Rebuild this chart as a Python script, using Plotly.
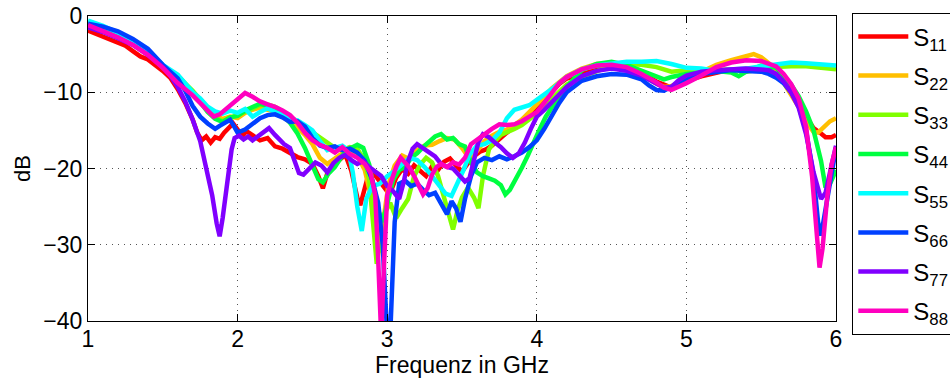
import plotly.graph_objects as go

# Measured reflection coefficients S11 ... S88 (frequency in GHz, magnitude in dB)
f11 = [1.00, 1.05, 1.10, 1.15, 1.20, 1.25, 1.30, 1.35, 1.40, 1.45,
       1.50, 1.55, 1.60, 1.65, 1.70, 1.73, 1.76, 1.79, 1.82, 1.85,
       1.88, 1.91, 1.94, 1.97, 2.00, 2.03, 2.06, 2.10, 2.15, 2.20,
       2.25, 2.30, 2.35, 2.40, 2.45, 2.50, 2.54, 2.57, 2.60, 2.64,
       2.68, 2.72, 2.76, 2.80, 2.82, 2.85, 2.88, 2.92, 2.96, 3.00,
       3.03, 3.06, 3.10, 3.14, 3.18, 3.22, 3.26, 3.30, 3.34, 3.38,
       3.42, 3.46, 3.50, 3.54, 3.58, 3.62, 3.66, 3.70, 3.75, 3.80,
       3.85, 3.90, 3.95, 4.00, 4.05, 4.10, 4.15, 4.20, 4.30, 4.40,
       4.50, 4.60, 4.70, 4.80, 4.90, 5.00, 5.10, 5.20, 5.30, 5.40,
       5.50, 5.60, 5.65, 5.70, 5.75, 5.80, 5.85, 5.90, 5.93, 5.97,
       6.00]
s11 = [-1.9, -2.3, -2.8, -3.2, -3.5, -3.9, -4.6, -5.3, -5.7, -6.4,
       -7.2, -8.1, -9.6, -11.4, -13.6, -15.3, -16.3, -15.8, -16.6, -15.9,
       -16.1, -15.3, -14.6, -14.1, -14.9, -15.8, -15.1, -15.7, -16.3, -16.0,
       -17.1, -17.4, -17.9, -18.5, -18.8, -19.4, -21.0, -22.6, -20.6, -19.6,
       -18.9, -18.2, -20.3, -23.8, -24.8, -22.6, -20.4, -20.9, -21.9, -23.0,
       -22.7, -21.2, -20.1, -20.7, -19.6, -20.4, -21.0, -19.7, -20.2, -19.1,
       -18.7, -19.6, -20.4, -19.3, -18.4, -17.8, -17.5, -17.0, -16.1, -15.3,
       -14.5, -13.9, -13.1, -12.2, -11.0, -9.9, -8.9, -8.2, -7.6, -7.0,
       -6.6, -6.9, -7.5, -8.6, -9.4, -8.5, -7.9, -7.4, -7.0, -7.0,
       -7.0, -7.5, -8.4, -10.0, -11.6, -13.3, -14.7, -15.4, -15.9, -15.9,
       -15.6]

f22 = [1.00, 1.10, 1.20, 1.30, 1.40, 1.50, 1.60, 1.70, 1.80,
       1.85, 1.90, 1.95, 2.00, 2.05, 2.10, 2.15, 2.20, 2.25, 2.30, 2.35, 2.40, 2.45, 2.50,
       2.55, 2.60, 2.65, 2.70, 2.75, 2.80, 2.85,
       2.89, 2.92, 2.95, 2.98, 3.01,
       3.05, 3.10, 3.15, 3.20, 3.25, 3.30, 3.35, 3.40, 3.45, 3.50,
       3.55, 3.60, 3.65, 3.70, 3.75, 3.80, 3.85, 3.90, 3.95, 4.00,
       4.10, 4.20, 4.30, 4.40, 4.50, 4.60, 4.70, 4.80,
       4.85, 4.90, 5.00, 5.10, 5.20, 5.30, 5.40, 5.45, 5.50, 5.55,
       5.60, 5.65, 5.70, 5.75, 5.80, 5.85, 5.88, 5.92, 5.96, 6.00]
s22 = [-1.3, -2.0, -2.7, -3.7, -5.0, -6.7, -8.5, -10.4, -12.3,
       -13.1, -13.5, -13.2, -13.4, -12.7, -12.3, -12.0, -12.3, -12.5, -13.2, -13.9, -14.6, -15.6, -16.8,
       -18.6, -19.4, -18.7, -18.0, -17.6, -18.3, -20.2,
       -23.5, -28.0, -31.0, -26.0, -22.0,
       -19.6, -18.3, -18.8, -17.6, -17.0, -16.9, -16.4, -16.0, -16.2, -17.3,
       -18.7, -17.7, -16.4, -15.7, -15.2, -14.9, -14.3, -13.6, -12.6, -11.6,
       -9.5, -7.9, -6.9, -6.3, -6.2, -6.7, -7.7, -8.9,
       -9.3, -9.2, -8.3, -7.3, -6.4, -5.8, -5.3, -5.0, -5.4, -6.2,
       -7.2, -8.8, -10.3, -11.9, -13.8, -15.2, -15.3, -14.5, -13.8, -13.4]

f33 = [1.00, 1.10, 1.20, 1.30, 1.40, 1.50, 1.60, 1.70, 1.80,
       1.85, 1.90, 1.95, 2.00, 2.05, 2.10, 2.15, 2.20, 2.25, 2.30, 2.35,
       2.40, 2.45, 2.50, 2.55, 2.60, 2.65, 2.70, 2.75, 2.80, 2.85,
       2.88, 2.91, 2.93, 2.95, 2.98, 3.02, 3.06, 3.10, 3.14, 3.18,
       3.22, 3.26, 3.30, 3.34, 3.38, 3.41, 3.44, 3.47, 3.50, 3.54,
       3.58, 3.61, 3.64, 3.68, 3.72, 3.76, 3.80, 3.85, 3.90, 3.95,
       4.00, 4.05, 4.10,
       4.20, 4.30, 4.40, 4.50, 4.60, 4.70, 4.80, 4.90, 5.00, 5.10,
       5.20, 5.30, 5.40, 5.50, 5.60, 5.70, 5.80, 5.90, 6.00]
s33 = [-1.0, -1.7, -2.5, -3.5, -4.9, -6.5, -7.9, -9.8, -12.2,
       -13.3, -13.8, -13.4, -13.0, -12.5, -12.1, -11.7, -11.6, -11.9, -12.5, -13.2,
       -13.8, -14.6, -15.2, -16.0, -16.6, -17.3, -17.6, -17.2, -17.4, -19.0,
       -21.5, -28.5, -32.5, -30.0, -26.0, -24.5, -26.5, -25.2, -24.0, -21.0,
       -19.5, -18.6, -19.2, -21.0, -24.0, -26.0, -28.0, -25.5, -23.8, -22.5,
       -23.8, -25.2, -21.0, -17.5, -16.4, -15.6, -15.3, -14.8, -14.3, -13.6,
       -12.8, -11.8, -10.8,
       -9.0, -8.0, -7.2, -6.5, -6.3, -6.4, -6.7, -7.3, -7.1, -7.3,
       -7.1, -7.0, -7.3, -7.0, -6.7, -6.6, -6.6, -6.8, -7.0]

f44 = [1.00, 1.10, 1.20, 1.30, 1.40, 1.50, 1.60, 1.70, 1.80,
       1.85, 1.90, 1.95, 2.00, 2.05, 2.10, 2.15, 2.20, 2.25, 2.30, 2.35, 2.40, 2.45, 2.50,
       2.54, 2.57, 2.61, 2.65, 2.70, 2.75, 2.80, 2.84, 2.88, 2.91,
       2.94, 2.97, 3.00, 3.04, 3.08, 3.12, 3.16, 3.20, 3.24, 3.28,
       3.32, 3.36, 3.40, 3.44, 3.48, 3.52, 3.56, 3.60, 3.64, 3.68,
       3.72, 3.76, 3.79, 3.82, 3.86, 3.90, 3.94, 3.98, 4.02, 4.06,
       4.10, 4.15, 4.20, 4.25, 4.30, 4.40, 4.50, 4.60, 4.70, 4.80,
       4.85, 4.90, 5.00, 5.10, 5.20, 5.30, 5.35, 5.40, 5.50, 5.60,
       5.65, 5.70, 5.75, 5.80, 5.85, 5.90, 5.93, 5.96, 6.00]
s44 = [-1.1, -1.8, -2.6, -3.6, -4.9, -6.6, -7.8, -10.0, -12.6,
       -13.5, -13.9, -13.3, -13.1, -12.4, -12.0, -11.5, -11.8, -12.0, -12.9, -14.0, -15.4, -17.3, -19.6,
       -21.4, -21.8, -20.6, -19.8, -18.3, -17.4, -16.9, -17.3, -19.5, -22.5,
       -25.5, -27.0, -24.5, -21.5, -20.2, -19.8, -18.6, -18.0, -17.2, -16.4,
       -15.8, -15.5, -16.2, -16.0, -16.8, -17.1, -19.2, -20.5, -21.0, -21.3,
       -21.6, -22.2, -23.4, -22.8, -21.4, -19.9, -18.3, -16.4, -14.8, -13.2,
       -11.9, -10.5, -9.3, -8.1, -7.1, -6.3, -6.0, -6.4, -7.1, -7.9,
       -8.3, -8.0, -7.6, -7.4, -7.2, -7.4, -7.9, -7.3, -6.5, -6.8,
       -7.8, -9.0, -10.5, -12.5, -15.0, -19.0, -22.5, -22.0, -20.2]

f55 = [1.00, 1.10, 1.20, 1.30, 1.40, 1.50, 1.60,
       1.65, 1.70, 1.75, 1.80, 1.85, 1.90, 1.95, 2.00, 2.05, 2.10, 2.15,
       2.20, 2.25, 2.30, 2.35, 2.40, 2.45, 2.50, 2.55, 2.60, 2.65, 2.70,
       2.74, 2.77, 2.80, 2.83, 2.86, 2.90, 2.95, 3.00, 3.05, 3.10,
       3.15, 3.20, 3.25, 3.30, 3.35, 3.39, 3.43, 3.47, 3.51, 3.55,
       3.60, 3.65, 3.70, 3.75, 3.80, 3.85, 3.90, 3.95, 4.00,
       4.10, 4.20, 4.30, 4.40, 4.50, 4.60, 4.70, 4.80, 4.90, 5.00,
       5.10, 5.20, 5.30, 5.40, 5.50, 5.60, 5.70, 5.80, 5.90, 6.00]
s55 = [-0.6, -1.3, -2.2, -3.3, -4.7, -6.4, -7.7,
       -8.8, -10.0, -10.8, -11.9, -12.5, -12.8, -12.4, -12.7, -12.2, -13.2, -12.6,
       -12.1, -12.6, -12.9, -13.5, -13.7, -14.3, -15.0, -16.4, -17.6, -17.3, -17.0,
       -17.6, -20.5, -25.0, -28.2, -24.0, -22.3, -22.0, -21.0, -20.3, -19.4,
       -18.6, -18.9, -19.8, -21.0, -22.4, -23.3, -23.6, -22.0, -20.2, -18.2,
       -17.0, -16.8, -16.3, -15.3, -13.4, -12.3, -12.0, -11.7, -11.0,
       -9.6, -8.0, -7.0, -6.5, -6.2, -6.0, -6.0, -5.9, -6.3, -6.8,
       -6.9, -7.2, -7.0, -6.9, -6.6, -6.3, -6.1, -6.2, -6.3, -6.5]

f66 = [1.00, 1.10, 1.20, 1.30, 1.40, 1.50, 1.60,
       1.65, 1.70, 1.75, 1.80, 1.85, 1.88, 1.92, 1.95, 1.98, 2.00,
       2.05, 2.10, 2.15, 2.20, 2.25, 2.30, 2.35, 2.40, 2.45,
       2.50, 2.55, 2.60, 2.65, 2.70, 2.75, 2.80, 2.85, 2.90,
       2.94, 2.97, 3.00, 3.02, 3.05, 3.08, 3.12, 3.16, 3.20, 3.24,
       3.28, 3.32, 3.36, 3.40, 3.43, 3.46, 3.49, 3.52, 3.56, 3.60,
       3.65, 3.70, 3.75, 3.80, 3.85, 3.90, 3.95, 4.00, 4.05, 4.10,
       4.15, 4.20, 4.30, 4.40, 4.50, 4.60, 4.70, 4.75, 4.80, 4.85,
       4.90, 5.00, 5.10, 5.20, 5.30, 5.40, 5.50, 5.55, 5.60, 5.65,
       5.70, 5.75, 5.80, 5.85, 5.88, 5.90, 5.92, 5.95, 6.00]
s66 = [-1.0, -1.4, -2.0, -3.0, -4.3, -6.4, -8.2,
       -9.8, -11.8, -13.2, -14.1, -14.8, -14.4, -14.0, -13.6, -14.6, -15.3,
       -14.9, -14.1, -13.4, -13.0, -12.9, -13.3, -13.9, -13.8, -14.5,
       -16.0, -17.0, -17.3, -17.1, -17.6, -17.4, -17.9, -19.0, -21.5,
       -24.5, -30.0, -42.0, -42.0, -27.0, -22.0, -21.6, -22.3, -22.0, -22.8,
       -23.5, -23.2, -24.5, -26.0, -24.3, -25.2, -27.0, -24.0, -21.0, -19.2,
       -18.6, -18.9, -18.4, -18.8, -18.4, -17.9, -17.2, -16.3, -14.8, -13.0,
       -11.4, -10.0, -8.5, -7.9, -7.6, -7.7, -8.3, -9.1, -9.7, -9.8,
       -9.3, -8.2, -7.6, -7.3, -7.1, -7.2, -7.3, -7.6, -8.1, -8.8,
       -10.0, -11.8, -15.0, -21.0, -27.0, -28.8, -26.5, -22.3, -17.3]

f77 = [1.00, 1.10, 1.20, 1.30, 1.40, 1.50,
       1.55, 1.60, 1.65, 1.70, 1.75, 1.80,
       1.83, 1.86, 1.88, 1.90, 1.93, 1.96, 1.98, 2.01, 2.04, 2.07,
       2.10, 2.13, 2.17, 2.21, 2.25, 2.28, 2.31, 2.35, 2.38, 2.41,
       2.44, 2.48, 2.52, 2.56, 2.60, 2.64, 2.68, 2.72, 2.76, 2.80,
       2.84, 2.88, 2.92, 2.96, 3.00, 3.04, 3.08, 3.11, 3.14, 3.17,
       3.20, 3.24, 3.28, 3.32, 3.36, 3.40, 3.44, 3.48, 3.52, 3.55,
       3.58, 3.61, 3.64, 3.68, 3.72, 3.76, 3.80, 3.84, 3.88, 3.92,
       3.96, 4.00, 4.05, 4.10, 4.15, 4.20, 4.30, 4.40, 4.50, 4.60,
       4.70, 4.80, 4.85, 4.90, 4.95, 5.00, 5.10, 5.20, 5.30, 5.40,
       5.50, 5.55, 5.60, 5.65, 5.70, 5.75, 5.80, 5.85, 5.90, 5.93,
       5.96, 6.00]
s77 = [-1.5, -2.1, -2.9, -3.8, -5.1, -6.7,
       -7.8, -9.3, -11.2, -13.6, -16.4, -20.5,
       -23.5, -27.2, -28.9, -26.5, -22.5, -17.5, -16.0, -15.7, -16.2, -15.8,
       -16.3, -15.9, -15.3, -14.7, -15.6, -16.2, -16.8, -17.3, -19.0, -20.6,
       -20.8, -20.0, -19.2, -19.6, -20.5, -19.3, -18.6, -18.2, -18.9, -19.4,
       -19.0, -19.8, -20.4, -21.0, -22.3, -23.0, -24.0, -21.8, -19.0, -17.4,
       -16.8, -17.3, -17.9, -18.4, -19.4, -19.8, -20.0, -20.9, -21.7, -21.3,
       -19.0, -16.5, -15.5, -15.9, -16.6, -17.2, -18.0, -18.6, -18.0, -16.6,
       -14.8, -13.2, -12.3, -11.3, -10.2, -9.3, -7.9, -7.2, -6.9, -7.2,
       -7.8, -8.8, -9.4, -9.3, -8.4, -7.8, -7.3, -7.1, -7.0, -6.9,
       -7.0, -7.1, -7.6, -8.6, -10.0, -12.0, -15.5, -20.5, -24.0, -23.2,
       -20.5, -17.0]

f88 = [1.00, 1.10, 1.20, 1.30, 1.40, 1.50, 1.60, 1.70,
       1.75, 1.80, 1.84, 1.88, 1.92, 1.96, 2.00,
       2.05, 2.10, 2.15, 2.20, 2.25, 2.30, 2.35, 2.40, 2.45,
       2.50, 2.55, 2.60, 2.65, 2.70, 2.75, 2.80, 2.85,
       2.89, 2.92, 2.94, 2.96, 2.98, 3.00, 3.03, 3.06, 3.09, 3.12,
       3.15, 3.18, 3.21, 3.24, 3.27, 3.30, 3.33, 3.36, 3.40, 3.44,
       3.48, 3.52, 3.56, 3.60, 3.65, 3.70, 3.75, 3.80, 3.85, 3.90,
       3.95, 4.00, 4.05, 4.10, 4.15, 4.20, 4.30, 4.40, 4.50, 4.60,
       4.70, 4.80, 4.85, 4.90, 4.95, 5.00, 5.10, 5.20, 5.30, 5.40,
       5.50, 5.55, 5.60, 5.65, 5.70, 5.75, 5.80, 5.84, 5.87, 5.89,
       5.91, 5.94, 5.97, 6.00]
s88 = [-1.2, -2.0, -2.8, -3.8, -5.1, -6.8, -8.8, -10.4,
       -11.4, -12.4, -13.2, -12.9, -12.2, -11.6, -10.8,
       -10.1, -10.6, -11.2, -11.6, -11.9, -12.4, -13.0, -14.0, -15.3,
       -16.3, -16.9, -17.3, -17.9, -17.2, -18.1, -18.6, -19.4,
       -20.6, -23.5, -32.0, -42.0, -32.0, -23.5, -21.5, -19.8, -18.6, -19.2,
       -19.9, -21.0, -22.3, -23.4, -22.6, -20.8, -19.8, -19.4, -19.8, -19.2,
       -19.5, -18.6, -16.8, -16.2, -15.6, -14.8, -14.2, -14.3, -14.2, -13.8,
       -13.2, -12.6, -11.4, -10.0, -8.8, -8.0, -7.0, -6.5, -6.4, -6.7,
       -7.6, -8.7, -9.4, -9.7, -9.3, -8.8, -7.8, -6.7, -6.1, -5.8,
       -5.9, -6.3, -6.6, -7.6, -8.9, -10.8, -14.5, -21.0, -28.5, -33.0,
       -30.5, -24.0, -19.5, -17.2]

names = ["S<sub>11</sub>", "S<sub>22</sub>", "S<sub>33</sub>", "S<sub>44</sub>",
         "S<sub>55</sub>", "S<sub>66</sub>", "S<sub>77</sub>", "S<sub>88</sub>"]
freqs = [f11, f22, f33, f44, f55, f66, f77, f88]
values = [s11, s22, s33, s44, s55, s66, s77, s88]
colors = ["#FF0000", "#FFBF00", "#80FF00", "#00FF40",
          "#00FFFF", "#0040FF", "#8000FF", "#FF00BF"]

for fx, vy in zip(freqs, values):
    assert len(fx) == len(vy), (len(fx), len(vy))

fig = go.Figure()
for name, fx, vy, col in zip(names, freqs, values, colors):
    fig.add_trace(go.Scatter(
        x=fx, y=vy, mode="lines", name=name, legendgroup=name,
        line=dict(color=col, width=4.5),
    ))

axis_common = dict(
    showline=True, linecolor="black", linewidth=1.3, mirror="ticks",
    ticks="inside", ticklen=7, tickwidth=1, tickcolor="black",
    showgrid=True, gridcolor="#555555", gridwidth=1, griddash="1px,5px",
    zeroline=False, tickfont=dict(size=23, color="black"),
)

fig.update_xaxes(range=[1, 6], tickvals=[1, 2, 3, 4, 5, 6],
                 ticklabelstandoff=-3,
                 title=dict(text="Frequenz in GHz", font=dict(size=23), standoff=0),
                 **axis_common)
fig.update_yaxes(range=[-40, 0], tickvals=[-40, -30, -20, -10, 0],
                 title=dict(text="dB", font=dict(size=22), standoff=6),
                 **axis_common)

fig.update_layout(
    width=950, height=378,
    margin=dict(l=88, r=114, t=16, b=57, autoexpand=False),
    paper_bgcolor="white", plot_bgcolor="white",
    font=dict(family="Liberation Sans, Arial, Helvetica, sans-serif", size=24, color="black"),
    showlegend=True,
    legend=dict(
        x=1.0214, y=1.0098, xanchor="left", yanchor="top",
        bgcolor="white", bordercolor="black", borderwidth=1.3,
        font=dict(size=24), tracegroupgap=5, itemwidth=50,
        entrywidth=120, maxheight=360,
    ),
)

fig.write_html("out.html")
